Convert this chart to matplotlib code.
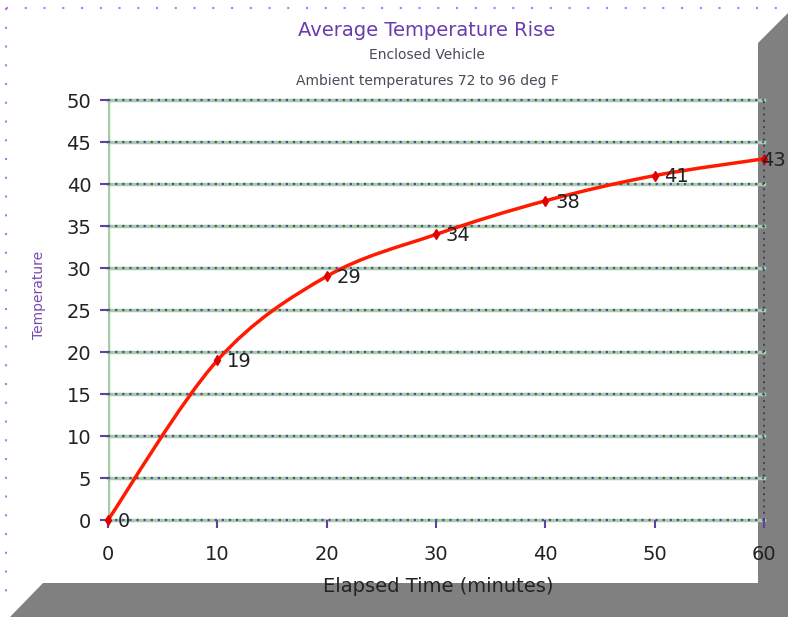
import matplotlib.pyplot as plt
from matplotlib.path import Path
from matplotlib.patches import PathPatch, Polygon
from matplotlib.lines import Line2D

# Données
minutes = [0, 10, 20, 30, 40, 50, 60]
temp_rise = [0, 19, 29, 34, 38, 41, 43]
x_ticks = [0, 10, 20, 30, 40, 50, 60]
y_ticks = [0, 5, 10, 15, 20, 25, 30, 35, 40, 45, 50]

W, H = 788, 617
fig = plt.figure(figsize=(W / 100, H / 100), dpi=100)
fig.patch.set_facecolor('white')

def fx(px):
    return px / W

def fy(py):
    return 1 - py / H

# Ombre grise (effet 3D), dessinée sous le graphique
shadow = '#808080'
fig.patches.append(Polygon([(fx(758), fy(43)), (fx(788), fy(13)), (fx(788), fy(617)),
                            (fx(758), fy(617))], closed=True, transform=fig.transFigure,
                           facecolor=shadow, edgecolor='none', zorder=-2))
fig.patches.append(Polygon([(fx(43), fy(583)), (fx(788), fy(583)), (fx(788), fy(617)),
                            (fx(10), fy(617))], closed=True, transform=fig.transFigure,
                           facecolor=shadow, edgecolor='none', zorder=-2))

# Bordure pointillée violette
border = '#c070f0'
fig.lines.append(Line2D([fx(6), fx(777)], [fy(8), fy(8)], transform=fig.transFigure,
                        color=border, lw=1.5, ls=(0, (1, 8)), zorder=-1))
fig.lines.append(Line2D([fx(6), fx(6)], [fy(8), fy(605)], transform=fig.transFigure,
                        color=border, lw=1.5, ls=(0, (1, 8)), zorder=-1))

ax = fig.add_axes([fx(108), fy(520), fx(764) - fx(108), fy(100) - fy(520)])
ax.set_facecolor('none')
ax.set_zorder(1)
ax.set_xlim(0, 60)
ax.set_ylim(0, 50)

# Grille : lignes vertes + pointillés violets
for y in y_ticks:
    ax.axhline(y, color='#a4cfa4', lw=2.5, zorder=1, clip_on=False)
    ax.axhline(y, color='#6040a0', lw=1.6, ls=(0, (1, 2.2)), zorder=2, clip_on=False)
ax.axvline(0, color='#a4cfa4', lw=2.5, zorder=1)
ax.axvline(60, color='#404060', lw=1.4, ls=(0, (1, 2.2)), zorder=2, clip_on=False)

for s in ax.spines.values():
    s.set_visible(False)

ax.set_xticks(x_ticks)
ax.set_yticks(y_ticks)
ax.tick_params(axis='both', colors='#6040a0', labelcolor='#222222', labelsize=14,
               length=6, width=1.5)
ax.tick_params(axis='x', pad=12)
ax.tick_params(axis='y', pad=6)

# Courbe lissée (Bézier de type Catmull-Rom)
pts = list(zip(minutes, temp_rise))
verts = [pts[0]]
codes = [Path.MOVETO]
for i in range(len(pts) - 1):
    p0 = pts[max(i - 1, 0)]
    p1 = pts[i]
    p2 = pts[i + 1]
    p3 = pts[min(i + 2, len(pts) - 1)]
    c1 = (p1[0] + (p2[0] - p0[0]) / 6, p1[1] + (p2[1] - p0[1]) / 6)
    c2 = (p2[0] - (p3[0] - p1[0]) / 6, p2[1] - (p3[1] - p1[1]) / 6)
    verts += [c1, c2, p2]
    codes += [Path.CURVE4] * 3
ax.add_patch(PathPatch(Path(verts, codes), facecolor='none', edgecolor='#ff1a00',
                       lw=2.5, zorder=4, clip_on=False))
ax.plot(minutes, temp_rise, ls='none', marker='d', ms=5, color='#e00000', zorder=5,
        clip_on=False)

for i, (x, y) in enumerate(zip(minutes, temp_rise)):
    dx = -2 if i == len(minutes) - 1 else 7
    ax.annotate(str(y), (x, y), xytext=(dx, -1), textcoords='offset points',
                fontsize=14, color='#222222', va='center', ha='left', zorder=6,
                annotation_clip=False)

# Titres
fig.text(fx(427), fy(31), 'Average Temperature Rise', ha='center', va='center',
         fontsize=14, color='#6a3cb0')
fig.text(fx(427), fy(55), 'Enclosed Vehicle', ha='center', va='center',
         fontsize=10, color='#4a4a5a')
fig.text(fx(427), fy(81), 'Ambient temperatures 72 to 96 deg F', ha='center',
         va='center', fontsize=10, color='#4a4a5a')
fig.text(fx(438), fy(586), 'Elapsed Time (minutes)', ha='center', va='center',
         fontsize=14, color='#222222')
fig.text(fx(39), fy(295), 'Temperature', ha='center', va='center', rotation=90,
         fontsize=10, color='#7a4ab0')

plt.savefig('out.png', dpi=100)
plt.close()
